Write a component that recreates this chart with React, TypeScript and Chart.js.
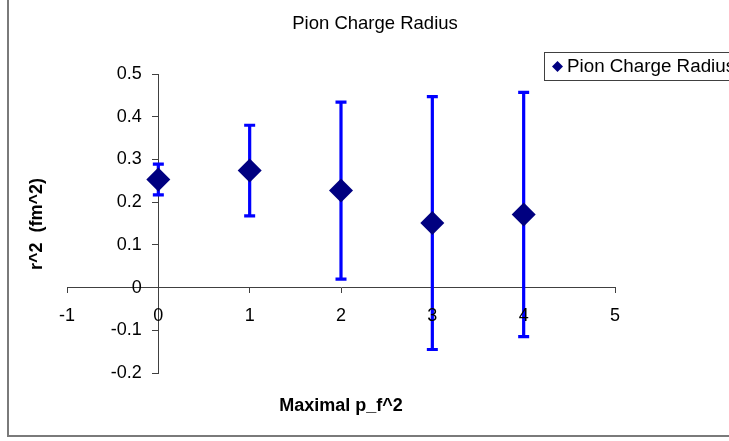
import React, { useEffect, useRef } from 'react';
import { Chart, registerables } from 'chart.js';

Chart.register(...registerables);

const chartTitle = 'Pion Charge Radius';
const seriesLabel = 'Pion Charge Radius';
const xAxisTitle = 'Maximal p_f^2';
const yAxisTitle = 'r^2  (fm^2)';

const xValues = [0, 1, 2, 3, 4];
const yValues = [0.253, 0.274, 0.227, 0.151, 0.171];
const yErrors = [0.036, 0.106, 0.207, 0.296, 0.286];

const xTickValues = [-1, 0, 1, 2, 3, 4, 5];
const xTickLabels = ['-1', '0', '1', '2', '3', '4', '5'];
const yTickValues = [-0.2, -0.1, 0, 0.1, 0.2, 0.3, 0.4, 0.5];
const yTickLabels = ['-0.2', '-0.1', '0', '0.1', '0.2', '0.3', '0.4', '0.5'];

const FONT = '"Liberation Sans", Arial, Helvetica, sans-serif';
const AXIS_COLOR = '#404040';
const MARKER_COLOR = '#000080';
const ERROR_COLOR = '#0000FF';
const Y_TICK_LEN = 6;
const Y_TICK_PAD = 10.6;

const frameAndDecor = {
  id: 'frameAndDecor',
  beforeDraw(chart: any) {
    const { ctx, width, height } = chart;
    ctx.save();
    ctx.fillStyle = '#ffffff';
    ctx.fillRect(0, 0, width, height);
    ctx.strokeStyle = '#7a7a7a';
    ctx.lineWidth = 2;
    ctx.beginPath();
    ctx.moveTo(8, 0);
    ctx.lineTo(8, 436);
    ctx.lineTo(width, 436);
    ctx.stroke();
    ctx.restore();
  },
  afterDraw(chart: any) {
    const { ctx, chartArea } = chart;
    const xs = chart.scales.x;
    const ys = chart.scales.y;
    ctx.save();

    // chart title
    ctx.fillStyle = '#000';
    ctx.font = `18.5px ${FONT}`;
    ctx.textAlign = 'center';
    ctx.textBaseline = 'alphabetic';
    ctx.fillText(chartTitle, 375, 29);

    // y tick labels (left of the y axis crossing at x = 0)
    ctx.font = `18px ${FONT}`;
    ctx.textAlign = 'right';
    ctx.textBaseline = 'middle';
    const axisX = xs.getPixelForValue(0);
    ys.ticks.forEach((t: any, i: number) => {
      ctx.fillText(yTickLabels[i], axisX - Y_TICK_LEN - Y_TICK_PAD, ys.getPixelForValue(t.value));
    });

    // axis titles
    ctx.font = `bold 18px ${FONT}`;
    ctx.textAlign = 'center';
    ctx.fillText(xAxisTitle, (chartArea.left + chartArea.right) / 2, 406);
    ctx.save();
    ctx.translate(37, 224);
    ctx.rotate(-Math.PI / 2);
    ctx.fillText(yAxisTitle, 0, 0);
    ctx.restore();

    // legend box
    const ds = chart.data.datasets[0];
    ctx.strokeStyle = AXIS_COLOR;
    ctx.lineWidth = 1;
    ctx.strokeRect(544.5, 52.5, 260, 28);
    const cx = 557.5, cy = 66.5, r = 5.5;
    ctx.fillStyle = ds.backgroundColor;
    ctx.beginPath();
    ctx.moveTo(cx - r, cy);
    ctx.lineTo(cx, cy - r);
    ctx.lineTo(cx + r, cy);
    ctx.lineTo(cx, cy + r);
    ctx.closePath();
    ctx.fill();
    ctx.fillStyle = '#000';
    ctx.font = `18.8px ${FONT}`;
    ctx.textAlign = 'left';
    ctx.fillText(ds.label, 567, cy);
    ctx.restore();
  },
};

const errorBars = {
  id: 'errorBars',
  beforeDatasetsDraw(chart: any) {
    const { ctx } = chart;
    const xs = chart.scales.x;
    const ys = chart.scales.y;
    ctx.save();
    ctx.strokeStyle = ERROR_COLOR;
    ctx.lineWidth = 3.2;
    ctx.lineCap = 'butt';
    xValues.forEach((xv, i) => {
      const px = xs.getPixelForValue(xv);
      const top = ys.getPixelForValue(yValues[i] + yErrors[i]);
      const bot = ys.getPixelForValue(yValues[i] - yErrors[i]);
      ctx.beginPath();
      ctx.moveTo(px, top);
      ctx.lineTo(px, bot);
      ctx.moveTo(px - 5.5, top);
      ctx.lineTo(px + 5.5, top);
      ctx.moveTo(px - 5.5, bot);
      ctx.lineTo(px + 5.5, bot);
      ctx.stroke();
    });
    ctx.restore();
  },
};

export default function App() {
  const ref = useRef<HTMLCanvasElement | null>(null);

  useEffect(() => {
    if (!ref.current) return;
    const tickFont = { family: FONT, size: 18, weight: 'normal' as const };
    const chart = new Chart(ref.current, {
      type: 'scatter',
      data: {
        datasets: [
          {
            label: seriesLabel,
            data: xValues.map((x, i) => ({ x, y: yValues[i] })),
            pointStyle: 'rectRot',
            pointRadius: 12,
            pointHoverRadius: 12,
            backgroundColor: MARKER_COLOR,
            borderColor: MARKER_COLOR,
            borderWidth: 0,
            showLine: false,
          },
        ],
      },
      options: {
        responsive: false,
        animation: false,
        events: [],
        layout: { padding: { left: 67, right: 135, top: 74, bottom: 68 } },
        plugins: {
          legend: { display: false },
          tooltip: { enabled: false },
          title: { display: false, text: chartTitle },
        },
        scales: {
          x: {
            type: 'linear',
            min: -1,
            max: 5,
            position: { y: 0 } as any,
            afterBuildTicks: (s: any) => {
              s.ticks = xTickValues.map((v) => ({ value: v }));
            },
            ticks: {
              callback: (_v: any, i: number) => xTickLabels[i],
              font: tickFont,
              color: '#000',
              padding: 12.5,
              maxRotation: 0,
              autoSkip: false,
              z: 1,
            } as any,
            grid: { drawOnChartArea: false, drawTicks: true, tickLength: 5, color: AXIS_COLOR },
            border: { display: true, color: AXIS_COLOR, width: 1 },
          },
          y: {
            type: 'linear',
            min: -0.2,
            max: 0.5,
            position: { x: 0 } as any,
            afterBuildTicks: (s: any) => {
              s.ticks = yTickValues.map((v) => ({ value: v }));
            },
            ticks: {
              display: false,
              callback: (_v: any, i: number) => yTickLabels[i],
              font: tickFont,
              autoSkip: false,
            },
            grid: { drawOnChartArea: false, drawTicks: true, tickLength: Y_TICK_LEN, color: AXIS_COLOR },
            border: { display: true, color: AXIS_COLOR, width: 1 },
          },
        },
      },
      plugins: [frameAndDecor, errorBars],
    });
    return () => chart.destroy();
  }, []);

  return (
    <div
      style={{
        position: 'absolute',
        left: 0,
        top: 0,
        width: 729,
        height: 441,
        overflow: 'hidden',
        background: '#fff',
      }}
    >
      <canvas ref={ref} width={750} height={441} style={{ display: 'block', width: 750, height: 441 }} />
    </div>
  );
}
